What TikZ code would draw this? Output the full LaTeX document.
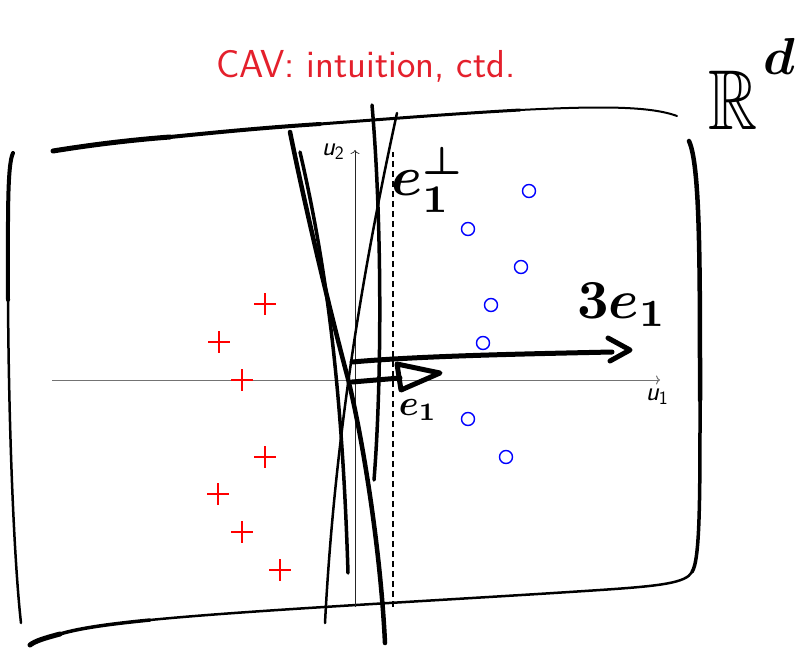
\documentclass[tikz,border=0pt]{standalone}
\usepackage{amssymb}
\usepackage{bm}
\usetikzlibrary{shapes.misc,arrows.meta}
\definecolor{titlered}{RGB}{228,32,44}

\begin{document}
\begin{tikzpicture}[x=1pt,y=-1pt,
  posmark/.style={draw=red,cross out,rotate=45,minimum size=13.5pt,inner sep=0pt,line width=1.4pt},
  negmark/.style={circle,draw=blue,minimum size=13pt,inner sep=0pt,line width=1.4pt},
  hand/.style={line width=3.5pt,line cap=round,line join=round},
  scrawl/.style={inner sep=0pt,font=\boldmath},
  axlbl/.style={font=\sffamily\itshape\fontsize{27}{32}\selectfont}]
\useasboundingbox (0,0) rectangle (802,647);
% Title
\node[text=titlered,font=\sffamily\fontsize{39}{47}\selectfont,anchor=base] (title) at (366,78) {CAV: intuition, ctd.};
% Sketched frame of the space
\draw[hand,line width=5pt] (53,151) .. controls (90,145) and (130,140) .. (170,137);
\draw[hand,line width=4pt] (170,137) .. controls (220,132) and (260,128) .. (320,124);
\draw[hand,line width=3pt] (320,124) .. controls (400,118) and (450,114) .. (520,110);
\draw[hand,line width=2pt] (520,110) .. controls (600,106) and (650,106) .. (677,116);
\draw[hand,line width=4.5pt] (689,141) .. controls (700,165) and (700,260) .. (700,400);
\draw[hand,line width=3.5pt] (700,400) .. controls (700,500) and (700,560) .. (692,572);
\draw[hand,line width=2.5pt] (692,572) .. controls (686,583) and (660,586) .. (600,590) .. controls (450,600) and (250,610) .. (150,620);
\draw[hand,line width=3.5pt] (150,620) .. controls (110,624) and (80,628) .. (60,634);
\draw[hand,line width=5pt] (60,634) .. controls (45,638) and (35,641) .. (30,645);
\draw[hand,line width=4pt] (13,153) .. controls (7,165) and (8,220) .. (8,300);
\draw[hand,line width=2.5pt] (8,300) .. controls (9,450) and (15,570) .. (21,623);
% Axes
\coordinate (xs) at (52,380);
\coordinate (xe) at (660,380);
\coordinate (ys) at (355,607);
\coordinate (ye) at (355,150);
\draw[black!55,line width=1pt,-{To[length=4pt,width=9pt]}] (xs) -- (xe);
\draw[black!85,line width=0.7pt,-{To[length=4pt,width=9pt]}] (ys) -- (ye);
\node[axlbl] (u1) at (657,397) {u\textsubscript{\upshape 1}};
\node[axlbl] (u2) at (333,152) {u\textsubscript{\upshape 2}};
% Dashed normal direction
\coordinate (ds) at (393,607);
\coordinate (de) at (393,152);
\draw[dashed,line width=1.2pt,dash pattern=on 6pt off 4pt] (ds) -- (de);
% Positive class
\node[posmark] (p1) at (265,304) {};
\node[posmark] (p2) at (219,342) {};
\node[posmark] (p3) at (242,380) {};
\node[posmark] (p4) at (265,457) {};
\node[posmark] (p5) at (218,494) {};
\node[posmark] (p6) at (242,532) {};
\node[posmark] (p7) at (280,570) {};
% Negative class
\node[negmark] (n1) at (529,191) {};
\node[negmark] (n2) at (468,229) {};
\node[negmark] (n3) at (521,267) {};
\node[negmark] (n4) at (491,305) {};
\node[negmark] (n5) at (483,343) {};
\node[negmark] (n6) at (468,419) {};
\node[negmark] (n7) at (506,457) {};
% Hand-drawn separators
\draw[hand,line width=4.5pt] (290,132) .. controls (310,230) and (335,330) .. (347,375) .. controls (360,425) and (380,540) .. (385,643);
\draw[hand,line width=3.5pt] (300,152) .. controls (325,260) and (342,380) .. (348,573);
\draw[hand,line width=3.5pt] (372,105) .. controls (382,220) and (382,380) .. (374,480);
\draw[hand,line width=2.5pt] (397,113) .. controls (365,260) and (335,430) .. (325,623);
% Arrows e_1 and 3e_1
\coordinate (o1) at (352,382);
\coordinate (o3) at (352,362);
\coordinate (t1) at (400,378);
\coordinate (t3) at (612,352);
\draw[hand,line width=5pt] (o3) .. controls (420,356) and (520,354) .. (t3);
\draw[hand,line width=5pt] (608,338) -- (630,350) -- (610,361);
\draw[hand,line width=5pt] (o1) -- (t1);
\draw[hand,line width=5pt] (397,364) -- (440,373) -- (401,390) -- cycle;
% Scrawled labels
\node[scrawl] (lperp) at (428,180) {\scalebox{5.6}{$e_1^{\perp}$}};
\node[scrawl] (l3e) at (622,305) {\scalebox{5.5}{$3e_1$}};
\node[scrawl] (le) at (418,410) {\scalebox{3.6}{$e_1$}};
\node[scrawl,anchor=base west] (lrd) at (708,130) {\scalebox{6.8}[8.5]{$\mathbb{R}$}\hspace{6pt}\raisebox{55pt}{\scalebox{5.2}{$d$}}};
\end{tikzpicture}
\end{document}
